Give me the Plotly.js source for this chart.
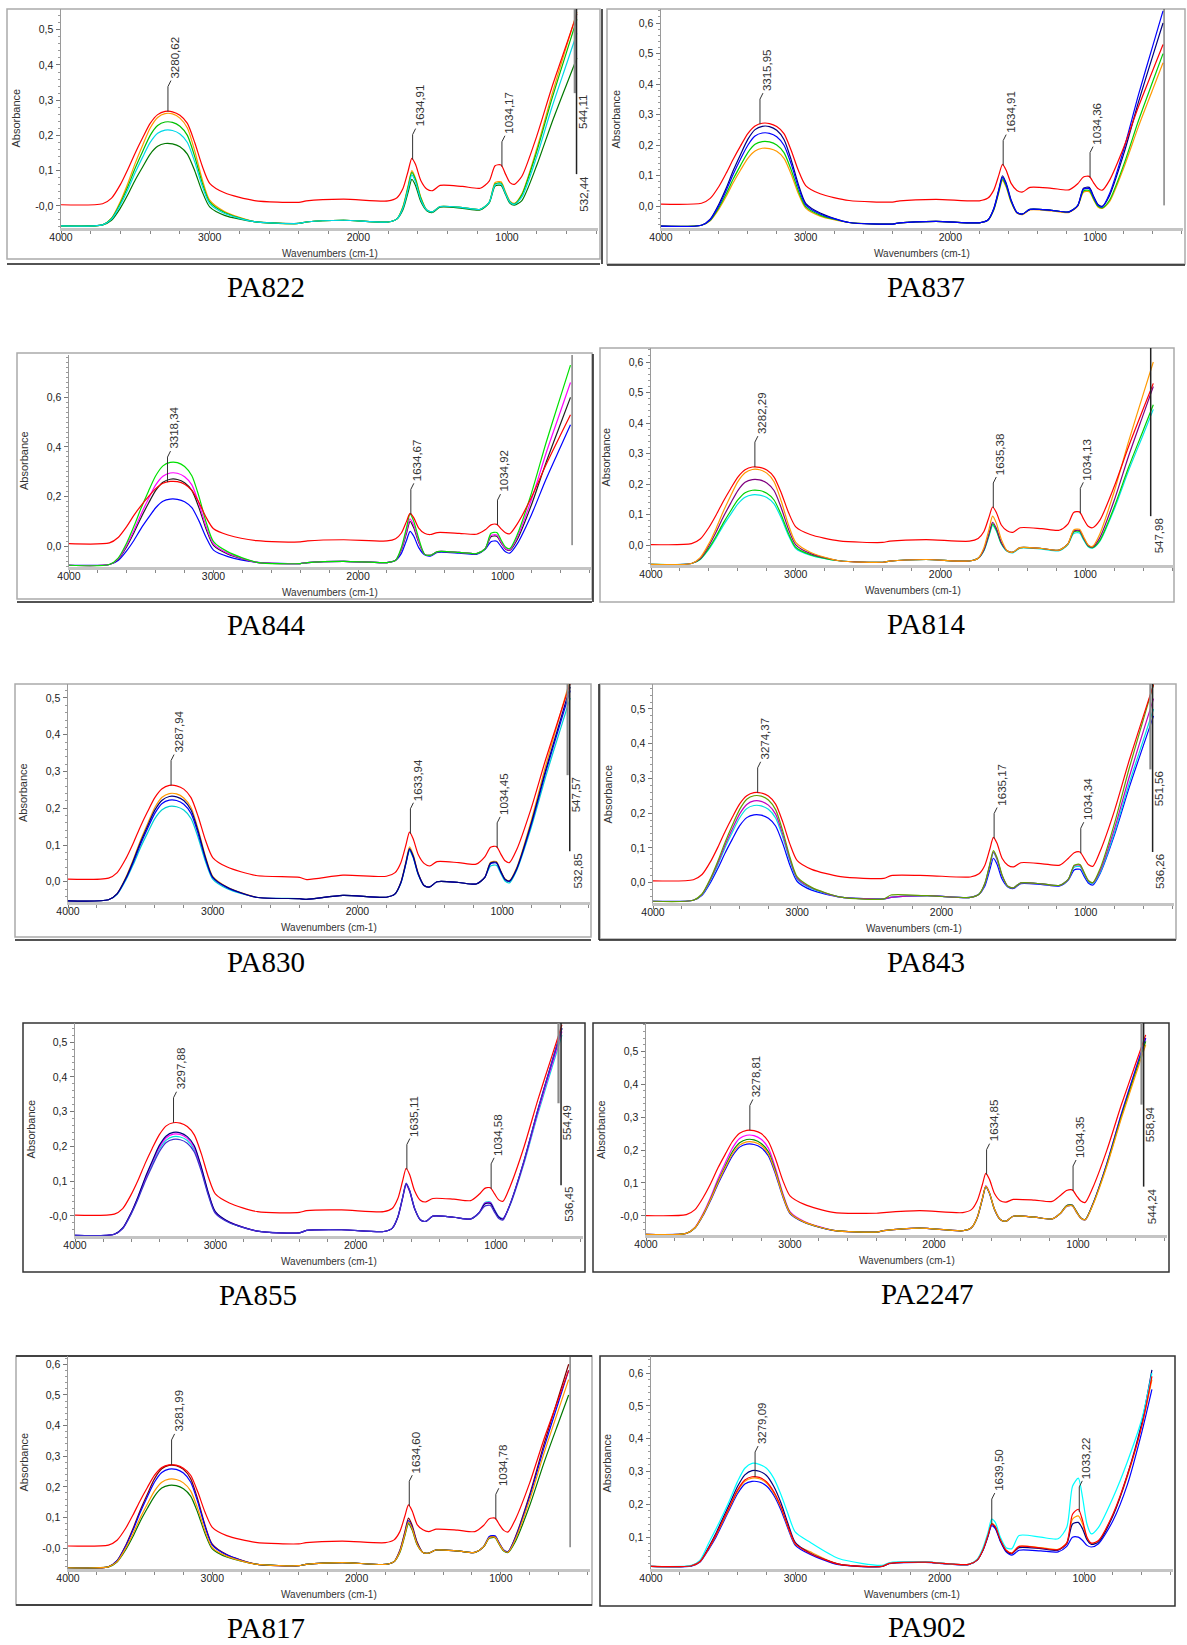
<!DOCTYPE html>
<html><head><meta charset="utf-8">
<script src="https://cdn.plot.ly/plotly-3.0.1.min.js"></script>
<style>body{margin:0;background:#fff}#chart{width:1187px;height:1645px}</style>
</head><body><div id="chart"></div>
<script>
// ---------- DATA ----------
const wavenumbers = [4000,3720,3660,3600,3550,3500,3450,3400,3350,3300,3250,3200,3150,3100,3050,3000,2900,2700,2400,2350,2100,1800,1740,1700,1665,1640,1615,1580,1540,1500,1450,1300,1180,1120,1080,1040,1010,980,950,900,800,700,600,530];
const xTickLabels = ['4000','3000','2000','1000'];

// PA822
const pa822_red    = [.003,.006,.022,.061,.104,.151,.194,.234,.259,.268,.267,.257,.234,.179,.113,.064,.037,.015,.010,.014,.019,.014,.023,.049,.099,.135,.117,.072,.048,.043,.058,.055,.050,.070,.114,.116,.090,.066,.061,.084,.198,.334,.458,.545];
const pa822_orange = [-.057,-.054,-.035,.013,.064,.122,.173,.221,.251,.262,.261,.249,.221,.155,.075,.016,-.016,-.045,-.050,-.046,-.041,-.046,-.037,-.002,.058,.100,.078,.025,-.012,-.017,-.002,-.005,-.010,.010,.066,.068,.039,.013,.007,.034,.162,.313,.453,.550];
const pa822_green  = [-.057,-.054,-.036,.008,.055,.108,.155,.200,.228,.238,.237,.226,.200,.139,.065,.011,-.019,-.045,-.050,-.046,-.041,-.046,-.037,-.004,.054,.095,.074,.022,-.012,-.017,-.002,-.005,-.010,.010,.062,.064,.036,.011,.005,.031,.154,.301,.436,.530];
const pa822_cyan   = [-.057,-.054,-.038,.003,.046,.095,.139,.180,.206,.215,.214,.204,.180,.124,.056,.006,-.022,-.045,-.050,-.046,-.041,-.046,-.037,-.006,.049,.088,.068,.018,-.012,-.017,-.002,-.005,-.010,.010,.060,.062,.035,.010,.004,.025,.140,.277,.402,.490];
const pa822_dkgreen= [-.057,-.054,-.041,-.006,.032,.074,.111,.147,.169,.177,.176,.168,.147,.099,.040,-.003,-.027,-.045,-.050,-.046,-.041,-.046,-.037,-.011,.039,.075,.057,.012,-.014,-.019,-.004,-.007,-.012,.008,.056,.058,.032,.007,.002,.015,.115,.234,.344,.420];
// PA837
const pa837_red    = [.007,.010,.026,.065,.108,.155,.198,.238,.263,.272,.271,.261,.238,.183,.117,.068,.041,.019,.014,.018,.023,.018,.027,.053,.102,.137,.119,.075,.052,.047,.062,.059,.054,.074,.096,.098,.077,.058,.053,.085,.195,.326,.446,.530];
const pa837_navy   = [-.065,-.062,-.042,.007,.059,.118,.170,.219,.251,.262,.261,.249,.219,.152,.071,.010,-.022,-.053,-.058,-.054,-.049,-.054,-.045,-.007,.055,.100,.077,.021,-.020,-.025,-.010,-.013,-.018,.002,.059,.062,.033,.006,.000,.035,.174,.341,.494,.600];
const pa837_blue   = [-.065,-.062,-.044,.002,.051,.106,.155,.200,.230,.240,.239,.228,.200,.138,.062,.005,-.025,-.053,-.058,-.054,-.049,-.054,-.045,-.009,.052,.095,.073,.018,-.020,-.025,-.010,-.013,-.018,.002,.056,.058,.030,.004,-.002,.041,.189,.365,.527,.640];
const pa837_green  = [-.065,-.062,-.046,-.004,.040,.090,.134,.176,.203,.212,.211,.201,.176,.119,.050,-.001,-.029,-.053,-.058,-.054,-.049,-.054,-.045,-.011,.048,.090,.068,.016,-.020,-.025,-.010,-.013,-.018,.002,.050,.052,.025,.001,-.005,.020,.138,.280,.410,.500];
const pa837_orange = [-.065,-.062,-.047,-.009,.032,.078,.119,.157,.181,.190,.189,.180,.157,.105,.041,-.006,-.032,-.053,-.058,-.054,-.049,-.054,-.045,-.012,.045,.085,.064,.013,-.022,-.027,-.012,-.015,-.020,.000,.046,.048,.022,-.002,-.007,.015,.128,.261,.384,.470];
// PA844
const pa844_red    = [.010,.013,.035,.080,.125,.165,.200,.232,.254,.261,.260,.250,.225,.175,.115,.070,.045,.022,.017,.021,.026,.021,.030,.053,.099,.132,.115,.073,.052,.047,.055,.052,.048,.066,.086,.088,.070,.054,.050,.088,.197,.327,.447,.530];
const pa844_green  = [-.077,-.074,-.048,.014,.081,.155,.222,.284,.324,.338,.337,.321,.284,.199,.095,.018,-.023,-.065,-.070,-.066,-.061,-.066,-.057,-.005,.074,.130,.101,.031,-.032,-.037,-.022,-.025,-.030,-.010,.052,.055,.025,-.003,-.010,.044,.214,.415,.601,.730];
const pa844_magenta= [-.077,-.074,-.051,.005,.064,.131,.191,.247,.282,.295,.294,.280,.247,.170,.077,.009,-.029,-.065,-.070,-.066,-.061,-.066,-.057,-.012,.060,.110,.084,.020,-.032,-.037,-.022,-.025,-.030,-.010,.043,.045,.017,-.009,-.015,.034,.188,.373,.542,.660];
const pa844_black  = [-.077,-.074,-.053,-.001,.055,.117,.173,.225,.258,.270,.269,.256,.225,.154,.067,.003,-.032,-.065,-.070,-.066,-.061,-.066,-.057,-.015,.052,.100,.075,.015,-.032,-.037,-.022,-.025,-.030,-.010,.038,.040,.013,-.011,-.017,.025,.167,.336,.492,.600];
const pa844_blue   = [-.077,-.074,-.058,-.018,.024,.073,.115,.155,.181,.190,.189,.179,.155,.101,.034,-.016,-.042,-.065,-.070,-.066,-.061,-.066,-.057,-.029,.023,.060,.041,-.006,-.035,-.040,-.025,-.028,-.033,-.013,.018,.020,-.002,-.023,-.028,.008,.127,.269,.399,.490];
// PA814
const pa814_red    = [.002,.005,.020,.058,.099,.144,.185,.223,.247,.256,.255,.246,.223,.171,.107,.060,.035,.014,.009,.013,.018,.013,.022,.045,.092,.125,.108,.066,.047,.042,.057,.054,.049,.069,.107,.109,.084,.062,.057,.081,.192,.324,.446,.530];
const pa814_orange = [-.063,-.060,-.041,.005,.055,.111,.161,.208,.237,.248,.247,.236,.208,.144,.066,.009,-.023,-.051,-.056,-.052,-.047,-.052,-.043,-.008,.052,.095,.073,.019,-.018,-.023,-.008,-.011,-.016,.004,.050,.052,.026,.001,-.004,.036,.176,.341,.494,.600];
const pa814_purple = [-.063,-.060,-.044,-.002,.043,.093,.137,.179,.206,.215,.214,.204,.179,.122,.052,.001,-.027,-.051,-.056,-.052,-.047,-.052,-.043,-.015,.038,.075,.056,.009,-.018,-.023,-.008,-.011,-.016,.004,.046,.048,.022,-.001,-.006,.024,.147,.293,.427,.520];
const pa814_green  = [-.063,-.060,-.046,-.010,.029,.073,.112,.148,.172,.180,.179,.170,.148,.099,.038,-.007,-.031,-.051,-.056,-.052,-.047,-.052,-.043,-.016,.034,.070,.051,.006,-.018,-.023,-.008,-.011,-.016,.004,.043,.045,.020,-.003,-.008,.015,.125,.256,.376,.460];
const pa814_cyan   = [-.063,-.060,-.047,-.013,.024,.065,.101,.135,.157,.165,.164,.156,.135,.089,.032,-.011,-.033,-.051,-.056,-.052,-.047,-.052,-.043,-.018,.030,.065,.047,.004,-.020,-.025,-.010,-.013,-.018,.002,.038,.040,.016,-.005,-.010,.012,.118,.245,.362,.445];
// PA830
const pa830_red    = [.007,.010,.025,.063,.104,.150,.191,.229,.253,.262,.261,.252,.229,.177,.113,.066,.040,.017,.012,.006,.018,.015,.025,.052,.100,.135,.117,.074,.050,.043,.055,.052,.048,.068,.094,.096,.076,.057,.052,.087,.199,.332,.455,.540];
const pa830_orange = [-.052,-.049,-.032,.012,.059,.112,.158,.202,.230,.240,.239,.228,.202,.142,.069,.015,-.014,-.042,-.046,-.048,-.037,-.042,-.033,-.001,.055,.095,.074,.024,-.010,-.014,.000,-.002,-.006,.012,.053,.055,.030,.008,.003,.038,.165,.315,.454,.550];
const pa830_navy   = [-.052,-.049,-.032,.010,.056,.107,.152,.195,.222,.232,.231,.221,.195,.137,.066,.013,-.015,-.042,-.046,-.048,-.037,-.042,-.033,-.002,.052,.090,.070,.022,-.010,-.014,.000,-.002,-.006,.012,.051,.053,.029,.007,.002,.035,.158,.303,.437,.530];
const pa830_blue   = [-.052,-.049,-.033,.008,.052,.101,.145,.186,.213,.222,.221,.211,.186,.130,.062,.011,-.016,-.042,-.046,-.048,-.037,-.042,-.033,-.003,.050,.088,.068,.021,-.010,-.014,.000,-.002,-.006,.012,.049,.051,.027,.006,.001,.034,.154,.297,.428,.520];
const pa830_cyan   = [-.052,-.049,-.034,.005,.046,.092,.133,.172,.196,.205,.204,.195,.172,.119,.055,.007,-.019,-.042,-.046,-.048,-.037,-.042,-.033,-.004,.048,.085,.066,.019,-.010,-.014,.000,-.002,-.006,.012,.043,.045,.023,.002,-.003,.031,.147,.285,.412,.500];
// PA843
const pa843_red    = [.005,.008,.023,.061,.102,.147,.188,.226,.250,.259,.258,.249,.226,.174,.110,.063,.038,.017,.012,.020,.020,.016,.025,.049,.096,.130,.113,.070,.050,.045,.057,.054,.050,.070,.086,.088,.069,.051,.047,.090,.208,.350,.480,.570];
const pa843_olive  = [-.054,-.051,-.033,.013,.062,.116,.165,.210,.240,.250,.249,.238,.210,.148,.072,.016,-.014,-.042,-.047,-.036,-.038,-.043,-.034,-.003,.053,.092,.072,.022,-.011,-.015,-.001,-.004,-.008,.010,.050,.052,.028,.005,.000,.040,.171,.327,.470,.570];
const pa843_magenta= [-.054,-.051,-.034,.010,.056,.108,.154,.197,.225,.235,.234,.223,.197,.138,.066,.012,-.016,-.042,-.047,-.043,-.038,-.043,-.034,-.004,.050,.088,.068,.020,-.011,-.015,-.001,-.004,-.008,.010,.048,.050,.026,.004,-.001,.034,.156,.302,.437,.530];
const pa843_cyan   = [-.054,-.051,-.035,.007,.051,.101,.145,.186,.213,.222,.221,.211,.186,.130,.061,.009,-.018,-.042,-.047,-.043,-.038,-.043,-.034,-.005,.048,.086,.066,.019,-.011,-.015,-.001,-.004,-.008,.010,.044,.046,.023,.002,-.003,.029,.145,.284,.411,.500];
const pa843_blue   = [-.054,-.051,-.037,.001,.041,.085,.125,.163,.187,.195,.194,.185,.163,.112,.049,.003,-.022,-.042,-.047,-.043,-.038,-.043,-.034,-.011,.037,.070,.053,.010,-.013,-.017,-.003,-.006,-.010,.008,.036,.038,.017,-.002,-.007,.026,.138,.272,.395,.480];
// PA855
const pa855_red    = [.002,.005,.021,.061,.103,.151,.194,.233,.259,.268,.267,.257,.233,.179,.112,.063,.037,.012,.010,.015,.017,.012,.021,.049,.101,.137,.118,.072,.045,.040,.050,.048,.044,.062,.079,.081,.063,.046,.042,.084,.199,.336,.462,.550];
const pa855_navy   = [-.056,-.053,-.035,.009,.056,.110,.157,.202,.230,.240,.239,.228,.202,.141,.067,.012,-.018,-.044,-.049,-.042,-.040,-.045,-.036,-.004,.053,.093,.072,.021,-.011,-.016,-.001,-.004,-.009,.009,.034,.036,.015,-.004,-.009,.033,.159,.308,.445,.540];
const pa855_magenta= [-.056,-.053,-.036,.008,.055,.107,.154,.197,.225,.235,.234,.223,.197,.138,.065,.011,-.018,-.044,-.049,-.042,-.040,-.045,-.036,-.005,.051,.090,.070,.020,-.011,-.016,-.001,-.004,-.009,.009,.036,.038,.016,-.003,-.008,.032,.155,.301,.436,.530];
const pa855_cyan   = [-.056,-.053,-.036,.006,.052,.103,.148,.191,.218,.228,.227,.217,.191,.133,.062,.009,-.019,-.044,-.049,-.042,-.040,-.045,-.036,-.005,.051,.090,.070,.020,-.011,-.016,-.001,-.004,-.009,.009,.038,.040,.018,-.002,-.007,.030,.151,.295,.428,.520];
const pa855_purple = [-.056,-.053,-.037,.005,.049,.099,.143,.184,.211,.220,.219,.209,.184,.128,.059,.007,-.020,-.044,-.049,-.042,-.040,-.045,-.036,-.003,.054,.094,.073,.022,-.011,-.016,-.001,-.004,-.009,.009,.028,.030,.010,-.008,-.012,.033,.159,.308,.445,.540];
// PA2247
const pa2247_red    = [.001,.004,.019,.058,.099,.146,.187,.226,.251,.260,.259,.250,.226,.173,.108,.061,.035,.011,.008,.010,.016,.010,.019,.046,.094,.129,.111,.068,.046,.042,.050,.048,.044,.063,.077,.079,.061,.045,.041,.083,.199,.336,.462,.550];
const pa2247_magenta= [-.056,-.053,-.035,.010,.058,.113,.161,.206,.235,.245,.244,.233,.206,.144,.069,.013,-.017,-.044,-.049,-.045,-.037,-.045,-.036,-.004,.052,.092,.071,.021,-.011,-.016,-.001,-.004,-.009,.009,.031,.033,.013,-.006,-.011,.033,.159,.308,.445,.540];
const pa2247_green  = [-.056,-.053,-.036,.007,.053,.105,.151,.195,.222,.232,.231,.220,.195,.136,.064,.010,-.019,-.044,-.049,-.045,-.037,-.045,-.036,-.005,.051,.090,.070,.020,-.011,-.016,-.001,-.004,-.009,.009,.031,.033,.013,-.006,-.011,.032,.155,.301,.436,.530];
const pa2247_orange = [-.056,-.053,-.036,.006,.051,.101,.146,.188,.215,.225,.224,.214,.188,.131,.061,.009,-.019,-.044,-.049,-.045,-.037,-.045,-.036,-.005,.051,.090,.070,.020,-.011,-.016,-.001,-.004,-.009,.009,.029,.031,.011,-.007,-.012,.030,.151,.295,.428,.520];
const pa2247_blue   = [-.056,-.053,-.037,.004,.048,.097,.141,.182,.209,.218,.217,.207,.182,.126,.058,.007,-.020,-.044,-.049,-.045,-.037,-.045,-.036,-.006,.049,.088,.068,.019,-.011,-.016,-.001,-.004,-.009,.009,.029,.031,.011,-.007,-.012,.033,.159,.308,.445,.540];
// PA817
const pa817_red    = [.007,.010,.026,.065,.108,.155,.198,.238,.263,.272,.271,.261,.238,.183,.117,.068,.041,.019,.014,.018,.023,.018,.027,.054,.105,.141,.122,.077,.060,.054,.062,.059,.054,.074,.096,.098,.077,.058,.053,.093,.213,.357,.488,.580];
const pa817_darkred= [-.064,-.061,-.041,.009,.063,.123,.176,.227,.259,.270,.269,.257,.227,.158,.075,.013,-.021,-.052,-.057,-.053,-.047,-.053,-.044,-.007,.054,.098,.075,.020,-.014,-.016,-.006,-.009,-.014,.004,.036,.038,.015,-.007,-.012,.036,.175,.341,.494,.600];
const pa817_blue   = [-.064,-.061,-.041,.007,.058,.116,.168,.216,.247,.258,.257,.245,.216,.150,.070,.010,-.022,-.052,-.057,-.053,-.047,-.053,-.044,-.010,.048,.090,.068,.016,-.014,-.016,-.006,-.009,-.014,.004,.038,.040,.016,-.006,-.011,.033,.168,.329,.477,.580];
const pa817_orange = [-.064,-.061,-.044,.000,.046,.098,.144,.187,.215,.225,.224,.213,.187,.128,.056,.002,-.026,-.052,-.057,-.053,-.047,-.053,-.044,-.012,.045,.085,.064,.013,-.014,-.016,-.006,-.009,-.014,.004,.034,.036,.013,-.008,-.013,.028,.157,.311,.452,.550];
const pa817_dkgreen= [-.064,-.061,-.045,-.005,.038,.087,.130,.170,.196,.205,.204,.194,.170,.115,.048,-.002,-.029,-.052,-.057,-.053,-.047,-.053,-.044,-.014,.041,.080,.060,.011,-.014,-.016,-.006,-.009,-.014,.004,.032,.034,.011,-.009,-.014,.021,.139,.280,.410,.500];
// PA902
const pa902_red    = [.011,.013,.026,.067,.107,.153,.198,.244,.274,.284,.282,.269,.239,.193,.132,.080,.051,.018,.011,.020,.024,.017,.031,.062,.107,.140,.132,.092,.060,.051,.072,.067,.062,.082,.170,.185,.150,.100,.082,.090,.170,.290,.440,.590];
const pa902_cyan   = [.011,.014,.030,.082,.125,.170,.218,.270,.310,.325,.322,.310,.280,.230,.170,.115,.085,.035,.014,.022,.025,.017,.033,.068,.115,.155,.145,.100,.068,.065,.105,.100,.095,.130,.255,.280,.220,.140,.110,.130,.220,.330,.460,.600];
const pa902_navy   = [.011,.013,.027,.070,.112,.160,.207,.255,.290,.303,.301,.288,.255,.205,.140,.083,.052,.018,.011,.020,.024,.017,.031,.062,.105,.140,.130,.090,.058,.050,.068,.065,.060,.080,.140,.145,.125,.092,.078,.085,.165,.290,.450,.610];
const pa902_blue   = [.011,.012,.024,.063,.100,.145,.190,.233,.262,.270,.268,.256,.228,.183,.125,.075,.048,.016,.011,.019,.023,.016,.030,.060,.103,.135,.126,.087,.055,.045,.060,.058,.055,.072,.100,.100,.090,.075,.070,.080,.150,.260,.420,.550];
const pa902_orange = [.011,.013,.026,.066,.105,.150,.195,.240,.270,.280,.278,.265,.235,.190,.130,.079,.056,.018,.011,.020,.024,.017,.031,.062,.106,.142,.133,.093,.060,.052,.072,.068,.063,.083,.155,.165,.140,.098,.080,.088,.168,.285,.440,.580];

// Tick labels
const yticks_pa822 = ['-0,0','0,1','0,2','0,3','0,4','0,5'];
const yticks_pa837 = ['0,0','0,1','0,2','0,3','0,4','0,5','0,6'];
const yticks_pa844 = ['0,0','0,2','0,4','0,6'];
const yticks_pa814 = ['0,0','0,1','0,2','0,3','0,4','0,5','0,6'];
const yticks_pa830 = ['0,0','0,1','0,2','0,3','0,4','0,5'];
const yticks_pa843 = ['0,0','0,1','0,2','0,3','0,4','0,5'];
const yticks_pa855 = ['-0,0','0,1','0,2','0,3','0,4','0,5'];
const yticks_pa2247= ['-0,0','0,1','0,2','0,3','0,4','0,5'];
const yticks_pa817 = ['-0,0','0,1','0,2','0,3','0,4','0,5','0,6'];
const yticks_pa902 = ['0,1','0,2','0,3','0,4','0,5','0,6'];

// Peak labels
const peaks_pa822 = ['3280,62','1634,91','1034,17'];
const peaks_pa837 = ['3315,95','1634,91','1034,36'];
const peaks_pa844 = ['3318,34','1634,67','1034,92'];
const peaks_pa814 = ['3282,29','1635,38','1034,13'];
const peaks_pa830 = ['3287,94','1633,94','1034,45'];
const peaks_pa843 = ['3274,37','1635,17','1034,34'];
const peaks_pa855 = ['3297,88','1635,11','1034,58'];
const peaks_pa2247= ['3278,81','1634,85','1034,35'];
const peaks_pa817 = ['3281,99','1634,60','1034,78'];
const peaks_pa902 = ['3279,09','1639,50','1033,22'];
const ends_pa822 = ['544,11','532,44'];
const ends_pa814 = ['547,98'];
const ends_pa830 = ['547,57','532,85'];
const ends_pa843 = ['551,56','536,26'];
const ends_pa855 = ['554,49','536,45'];
const ends_pa2247= ['558,94','544,24'];

// ---------- STYLE / LAYOUT CONFIG ----------
const W = 1187, H = 1645;
const panels = [
 {name:'PA822', g:{L:61,R:598,T:9,B:228,y0:-.063,y1:.559,xe:388}, cap:[266,287], yt:yticks_pa822, pk:peaks_pa822, ends:ends_pa822, stops:[.32,.09],
  s:[[pa822_orange,'#ff9900'],[pa822_dkgreen,'#007800'],[pa822_green,'#00c000'],[pa822_cyan,'#00d8e8'],[pa822_red,'#ff0000']]},
 {name:'PA837', g:{L:661,R:1183,T:9,B:228,y0:-.071,y1:.646,xe:392}, cap:[926,287], yt:yticks_pa837, pk:peaks_pa837, ends:[], stops:[], bare:[523,.003],
  s:[[pa837_orange,'#ff9900'],[pa837_green,'#00d000'],[pa837_navy,'#000080'],[pa837_blue,'#0000ff'],[pa837_red,'#ff0000']]},
 {name:'PA844', g:{L:69,R:591,T:355,B:567,y0:-.084,y1:.771,xe:388}, cap:[266,625], yt:yticks_pa844, pk:peaks_pa844, ends:[], stops:[], bare:[519,.004],
  s:[[pa844_blue,'#0000ff'],[pa844_black,'#202020'],[pa844_magenta,'#ff00ff'],[pa844_green,'#00e000'],[pa844_red,'#ff0000']]},
 {name:'PA814', g:{L:651,R:1174,T:348,B:565,y0:-.065,y1:.646,xe:387}, cap:[926,624], yt:yticks_pa814, pk:peaks_pa814, ends:ends_pa814, stops:[.095],
  s:[[pa814_cyan,'#00e5e5'],[pa814_green,'#00d000'],[pa814_purple,'#800080'],[pa814_orange,'#ff9900'],[pa814_red,'#ff0000']]},
 {name:'PA830', g:{L:68,R:590,T:684,B:902,y0:-.055,y1:.538,xe:393}, cap:[266,962], yt:yticks_pa830, pk:peaks_pa830, ends:ends_pa830, stops:[.29,.083],
  s:[[pa830_cyan,'#00d0d0'],[pa830_orange,'#ff9900'],[pa830_blue,'#0000ff'],[pa830_navy,'#000080'],[pa830_red,'#ff0000']]},
 {name:'PA843', g:{L:653,R:1174,T:684,B:903,y0:-.059,y1:.572,xe:388}, cap:[926,962], yt:yticks_pa843, pk:peaks_pa843, ends:ends_pa843, stops:[.326,.088],
  s:[[pa843_blue,'#0000ff'],[pa843_cyan,'#00e0e0'],[pa843_magenta,'#c000c0'],[pa843_olive,'#60a000'],[pa843_red,'#ff0000']]},
 {name:'PA855', g:{L:75,R:583,T:1023,B:1236,y0:-.058,y1:.555,xe:380}, cap:[258,1295], yt:yticks_pa855, pk:peaks_pa855, ends:ends_pa855, stops:[.324,.088],
  s:[[pa855_cyan,'#00e0e0'],[pa855_magenta,'#ff00ff'],[pa855_navy,'#000080'],[pa855_purple,'#4030d0'],[pa855_red,'#ff0000']]},
 {name:'PA2247', g:{L:646,R:1167,T:1023,B:1235,y0:-.058,y1:.586,xe:382}, cap:[927,1294], yt:yticks_pa2247, pk:peaks_pa2247, ends:ends_pa2247, stops:[.338,.089],
  s:[[pa2247_magenta,'#ff00ff'],[pa2247_blue,'#0000ff'],[pa2247_green,'#009000'],[pa2247_orange,'#ff9900'],[pa2247_red,'#ff0000']]},
 {name:'PA817', g:{L:68,R:590,T:1356,B:1569,y0:-.068,y1:.627,xe:382}, cap:[266,1628], yt:yticks_pa817, pk:peaks_pa817, ends:[], stops:[], bare:[520,.003],
  s:[[pa817_darkred,'#800000'],[pa817_blue,'#0000ff'],[pa817_dkgreen,'#007800'],[pa817_orange,'#ff9900'],[pa817_red,'#ff0000']]},
 {name:'PA902', g:{L:651,R:1173,T:1356,B:1569,y0:.003,y1:.652,xe:384}, cap:[927,1627], yt:yticks_pa902, pk:peaks_pa902, ends:[], stops:[],
  s:[[pa902_blue,'#0000ff'],[pa902_orange,'#ff9900'],[pa902_navy,'#000080'],[pa902_cyan,'#00ffff'],[pa902_red,'#ff0000']]}
];
const G = '#aaaaaa', K = '#1a1a1a';
const frames = [
 ['rect',7,9,600,259,G,1.5],['line',7,264,600,264,K,1.5],['line',602,9,602,264,K,1.5],
 ['rect',607,9,1185,264,G,1.5],['line',607,265,1185,265,K,1.5],
 ['rect',17,353,592,599,G,1.5],['line',17,602,592,602,K,1.5],
 ['rect',600,348,1174,602,G,1.5],['line',593,354,593,602,K,1.5],
 ['rect',15,684,591,937,G,1.5],['line',15,940,591,940,K,1.5],
 ['rect',600,684,1176,939,G,1.5],['line',599,684,599,940,K,1.5],['line',599,940,1176,940,K,1.5],
 ['rect',23,1023,585,1272,'#333',1.5],
 ['rect',593,1023,1169,1272,'#333',1.5],
 ['rect',16,1356,592,1605,G,1.5],['line',16,1356,592,1356,K,1.5],['line',16,1605,592,1605,K,1.5],
 ['rect',600,1356,1175,1606,'#333',1.5]
];

function num(t){ return parseFloat(t.replace('-','').replace(',','.')); }
function interp(xs, ys, x){
  for (let k=0;k<xs.length-1;k++){ const a=xs[k], b=xs[k+1];
    if (x<=a && x>=b){ const t=(x-a)/(b-a); return ys[k]+t*(ys[k+1]-ys[k]); } }
  return ys[ys.length-1];
}

const data = [], shapes = [], annotations = [];
const layout = {width:W, height:H, margin:{l:0,r:0,t:0,b:0}, paper_bgcolor:'#fff', plot_bgcolor:'#fff',
  showlegend:false, font:{family:'Liberation Sans, Arial, sans-serif', size:10.5, color:'#222'}};
const lab = {family:'Liberation Sans, Arial, sans-serif', size:11.5, color:'#333'};

frames.forEach(f=>{
  shapes.push({type:f[0], xref:'paper', yref:'paper', x0:f[1]/W, x1:f[3]/W, y0:1-f[2]/H, y1:1-f[4]/H,
    line:{color:f[5], width:f[6]}, layer:'below'});
});

panels.forEach((p,i)=>{
  const n = i+1, xa='x'+(n>1?n:''), ya='y'+(n>1?n:'');
  const g = p.g;
  layout['xaxis'+(n>1?n:'')] = {domain:[g.L/W,g.R/W], range:[4000,g.xe], anchor:ya,
    tickvals:xTickLabels.map(Number), ticktext:xTickLabels, ticks:'outside', ticklen:3, tickcolor:'#777',
    ticklabelstandoff:-5,
    showline:true, linecolor:'#c4c4c4', linewidth:2.5, showgrid:false, zeroline:false, fixedrange:true,
    minor:{tickmode:'linear', tick0:0, dtick:200, ticks:'outside', ticklen:3, tickcolor:'#888', showgrid:false},
    tickfont:{size:10.5, color:'#222'}};
  layout['yaxis'+(n>1?n:'')] = {domain:[1-g.B/H,1-g.T/H], range:[g.y0,g.y1], anchor:xa,
    tickvals:p.yt.map(num), ticktext:p.yt, ticks:'outside', ticklen:4, tickcolor:'#777',
    showline:true, linecolor:'#9a9a9a', linewidth:1.5, showgrid:false, zeroline:false, fixedrange:true,
    minor:{tickmode:'linear', tick0:0, dtick:0.02, ticks:'outside', ticklen:2, tickcolor:'#999', showgrid:false},
    tickfont:{size:10.5, color:'#222'}};
  p.s.forEach(([ys,c])=>{
    data.push({type:'scatter', mode:'lines', x:wavenumbers, y:ys, xaxis:xa, yaxis:ya,
      line:{color:c, width:1.2, shape:'spline', smoothing:0.7}, hoverinfo:'skip'});
  });
  const pxY = (g.B-g.T)/(g.y1-g.y0), pxX = (g.R-g.L)/(4000-g.xe);
  const ref = p.s[p.s.length-1][0];
  p.pk.forEach(t=>{
    const x = num(t), v = interp(wavenumbers, ref, x);
    const top = v + 25/pxY, x2 = x - 3/pxX, top2 = top + 6/pxY;
    shapes.push({type:'line', xref:xa, yref:ya, x0:x, x1:x, y0:v, y1:top, line:{color:'#333', width:1}});
    shapes.push({type:'line', xref:xa, yref:ya, x0:x, x1:x2, y0:top, y1:top2, line:{color:'#333', width:1}});
    annotations.push({xref:xa, yref:ya, x:x2, y:top2, text:t, showarrow:false, textangle:-90,
      xanchor:'center', yanchor:'bottom', xshift:4, font:lab});
  });
  p.ends.forEach((t,k)=>{
    const x = num(t), st = p.stops[k];
    shapes.push({type:'line', xref:xa, yref:ya, x0:x, x1:x, y0:g.y1, y1:st,
      line:{color:k===0 && p.ends.length>1 ? '#8a8a8a' : '#222', width:k===0 && p.ends.length>1 ? 2.2 : 1.5}});
    annotations.push({xref:xa, yref:ya, x:x, y:st, text:t, showarrow:false, textangle:-90,
      xanchor:'center', yanchor:'top', xshift:8, font:lab});
  });
  if (p.bare){
    shapes.push({type:'line', xref:xa, yref:ya, x0:p.bare[0], x1:p.bare[0], y0:g.y1, y1:p.bare[1], line:{color:'#444', width:1}});
  }
  annotations.push({xref:'paper', yref:'paper', x:(g.L-45)/W, y:1-((g.T+g.B)/2)/H, text:'Absorbance', textangle:-90,
    showarrow:false, xanchor:'center', yanchor:'middle', font:{family:'Liberation Sans, Arial, sans-serif', size:11, color:'#333'}});
  annotations.push({xref:'paper', yref:'paper', x:((g.L+g.R)/2)/W, y:1-(g.B+25)/H, text:'Wavenumbers (cm-1)',
    showarrow:false, xanchor:'center', yanchor:'middle', font:{family:'Liberation Sans, Arial, sans-serif', size:10, color:'#333'}});
  annotations.push({xref:'paper', yref:'paper', x:p.cap[0]/W, y:1-p.cap[1]/H, text:p.name,
    showarrow:false, xanchor:'center', yanchor:'middle', font:{family:'Liberation Serif, Times New Roman, serif', size:29, color:'#000'}});
});
layout.shapes = shapes;
layout.annotations = annotations;
Plotly.newPlot('chart', data, layout, {staticPlot:true, displayModeBar:false});
</script></body></html>
